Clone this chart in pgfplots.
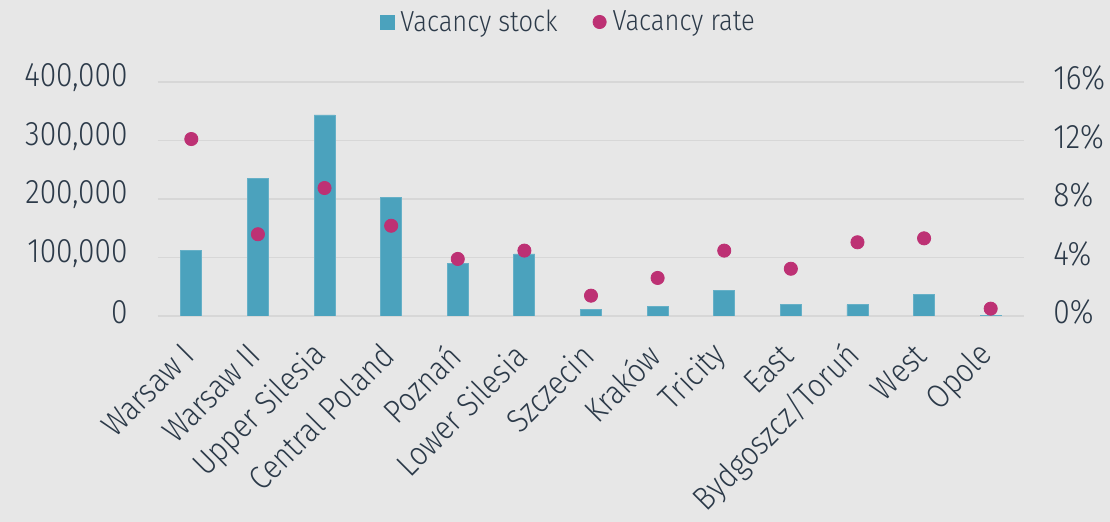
\documentclass[border=0pt]{standalone}
\usepackage{pgfplots}
\pgfplotsset{compat=1.18}
\usepackage{fontspec}
\setmainfont{Fira Sans}[UprightFont=* Light, FakeStretch=0.88]
\definecolor{bg}{HTML}{E7E7E7}
\definecolor{barc}{HTML}{4BA2BD}
\definecolor{dotc}{HTML}{BD3174}
\definecolor{gridc}{HTML}{D7D7D7}
\definecolor{txt}{HTML}{2C3A49}
\begin{document}
\begin{tikzpicture}
\fill[bg] (-79pt,-103pt) rectangle (476pt,158pt);
\begin{axis}[
  at={(0,0)}, anchor=south west,
  scale only axis, width=433pt, height=117pt,
  xmin=-0.5, xmax=12.5, ymin=0, ymax=400000,
  axis line style={draw=none}, major tick length=0pt,
  ymajorgrids, grid style={color=gridc, line width=0.8pt},
  ytick={0,100000,200000,300000,400000},
  scaled y ticks=false,
  /pgf/number format/assume math mode=true,
  /pgf/number format/fixed,
  /pgf/number format/1000 sep={,},
  yticklabel style={anchor=east, inner sep=0pt, xshift=-15pt, yshift=2pt, font=\fontsize{17}{19}\selectfont, text=txt},
  xtick={0,...,12},
  xticklabels={Warsaw I, Warsaw II, Upper Silesia, Central Poland, Poznań, Lower Silesia, Szczecin, Kraków, Tricity, East, Bydgoszcz/Toruń, West, Opole},
  xticklabel style={yshift=-17pt, xshift=-1.5pt, rotate=45, anchor=east, inner sep=0pt, font=\fontsize{16.5}{18}\selectfont, text=txt},
  legend columns=2,
  legend style={at={(0.4746,1)}, anchor=center, yshift=30pt, draw=none, fill=none,
    font=\fontsize{14.5}{16}\selectfont, text=txt,
    /tikz/every even column/.append style={column sep=16pt},
    nodes={inner sep=1.5pt}},
]
\addplot[ybar, bar width=10.5pt, fill=barc, draw=barc!85!white, line width=0.4pt,
  legend image code/.code={\fill[barc] (0pt,-3.5pt) rectangle (7pt,3.5pt); \path[draw=none,fill=none] (0pt,0pt) -- (8.5pt,0pt);}]
  coordinates {(0,111600) (1,235400) (2,343600) (3,202300) (4,90000) (5,106000) (6,11400) (7,16500) (8,44400) (9,20000) (10,19500) (11,36600) (12,300)};
\addlegendentry{Vacancy stock}
\addlegendimage{legend image code/.code={\fill[dotc] (3.5pt,0pt) circle (3.3pt); \path[draw=none,fill=none] (0pt,0pt) -- (8.5pt,0pt);}}
\addlegendentry{Vacancy rate}
\end{axis}
\begin{axis}[
  at={(0,0)}, anchor=south west,
  scale only axis, width=433pt, height=117pt,
  xmin=-0.5, xmax=12.5, ymin=0, ymax=16,
  axis y line*=right, axis x line=none,
  axis line style={draw=none}, major tick length=0pt,
  xtick=\empty,
  ytick={0,4,8,12,16},
  /pgf/number format/assume math mode=true,
  yticklabel={\pgfmathprintnumber{\tick}\%},
  yticklabel style={anchor=west, inner sep=0pt, xshift=14.5pt, yshift=2pt, font=\fontsize{17}{19}\selectfont, text=txt},
]
\addplot[only marks, mark=*, mark size=3.3pt, color=dotc, mark options={draw=dotc, fill=dotc}]
  coordinates {(0,12.1) (1,5.59) (2,8.75) (3,6.17) (4,3.9) (5,4.47) (6,1.39) (7,2.6) (8,4.47) (9,3.23) (10,5.04) (11,5.31) (12,0.5)};
\end{axis}
\end{tikzpicture}
\end{document}
